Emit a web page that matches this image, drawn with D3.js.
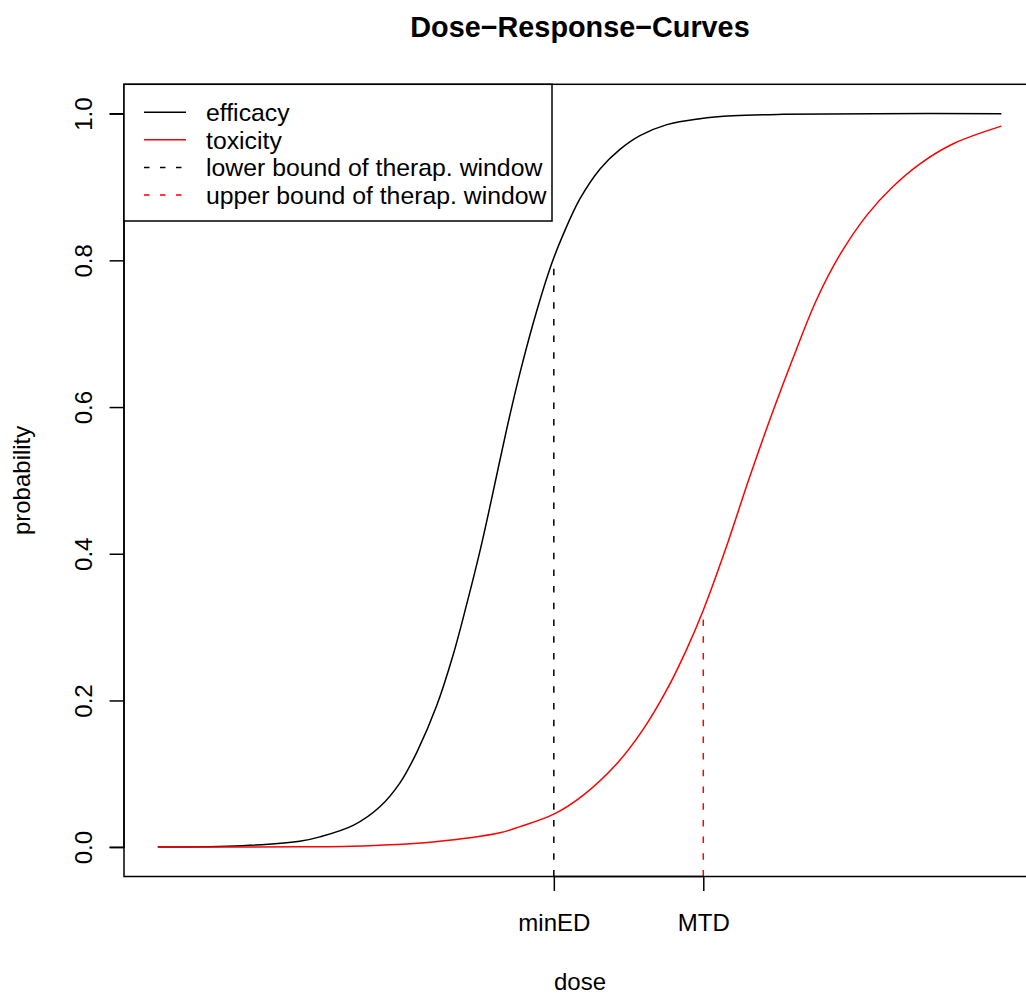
<!DOCTYPE html>
<html>
<head>
<meta charset="utf-8">
<script src="https://cdn.jsdelivr.net/npm/d3@7"></script>
<style>
  html, body { margin: 0; padding: 0; background: #fff; }
  svg { display: block; font-family: "Liberation Sans", Arial, Helvetica, sans-serif; }
</style>
</head>
<body>
<svg id="chart" width="1026" height="996"></svg>
<script>
// Efficacy curve: dose vs. probability of response
const effDose = [0, 1.0, 1.68, 1.92, 2.32, 2.63, 2.87, 3.07, 3.30, 3.50, 3.66, 3.82, 3.95,
                 4.13, 4.29, 4.49, 4.66, 4.80, 5.00, 5.24, 5.47, 5.71, 6.03, 6.42, 6.81, 7.40, 8.5, 9.99];
const effProb = [0.0002, 0.002, 0.008, 0.014, 0.030, 0.055, 0.088, 0.130, 0.192, 0.263, 0.332, 0.406, 0.473,
                 0.569, 0.647, 0.732, 0.794, 0.835, 0.884, 0.925, 0.951, 0.970, 0.985, 0.993, 0.997, 0.999, 1.0, 1.0];

// Toxicity curve: dose vs. probability of toxicity
const toxDose = [0, 1.68, 2.5, 3.26, 4.05, 4.29, 4.69, 5.04, 5.43, 5.75, 6.03, 6.26, 6.46, 6.72,
                 7.01, 7.29, 7.53, 7.80, 8.08, 8.40, 8.71, 9.03, 9.42, 9.99];
const toxProb = [0.0001, 0.0004, 0.002, 0.007, 0.0195, 0.028, 0.045, 0.071, 0.113, 0.161, 0.215, 0.269, 0.323, 0.405,
                 0.505, 0.596, 0.669, 0.746, 0.808, 0.862, 0.901, 0.932, 0.959, 0.983];

// Therapeutic window bounds
const boundDose = [4.69, 6.46];
const boundProb = [0.792, 0.3165];
const boundLabels = ["minED", "MTD"];
const boundColors = ["#000000", "#ff0000"];

// Axis ticks
const yTicks = [0, 0.2, 0.4, 0.6, 0.8, 1.0];
const yTickLabels = ["0.0", "0.2", "0.4", "0.6", "0.8", "1.0"];

// Legend
const legendLabels = ["efficacy", "toxicity", "lower bound of therap. window", "upper bound of therap. window"];
const legendColors = ["#000000", "#ff0000", "#000000", "#ff0000"];
const legendDashed = [false, false, true, true];

const svg = d3.select("#chart");
const plot = { left: 124, right: 1036, top: 84.3, bottom: 876.5 };

const x = d3.scaleLinear().domain([-0.4, 10.4]).range([plot.left, plot.right]);
const y = d3.scaleLinear().domain([-0.04, 1.04]).range([plot.bottom, plot.top]);

const dash = "6.5,10.2";
const fontSize = 24;

// Curves
const line = d3.line().x(d => x(d[0])).y(d => y(d[1])).curve(d3.curveCatmullRom.alpha(0.5));
svg.append("path")
  .attr("d", line(d3.zip(effDose, effProb)))
  .attr("fill", "none").attr("stroke", "#000").attr("stroke-width", 1.5);
svg.append("path")
  .attr("d", line(d3.zip(toxDose, toxProb)))
  .attr("fill", "none").attr("stroke", "#ff0000").attr("stroke-width", 1.5);

// Vertical dashed lines marking the therapeutic window
boundDose.forEach((d, i) => {
  svg.append("line")
    .attr("x1", x(d)).attr("x2", x(d))
    .attr("y1", plot.bottom).attr("y2", y(boundProb[i]))
    .attr("stroke", boundColors[i]).attr("stroke-width", 1.5)
    .attr("stroke-dasharray", dash);
});

// Plot frame
svg.append("rect")
  .attr("x", plot.left).attr("y", plot.top)
  .attr("width", plot.right - plot.left).attr("height", plot.bottom - plot.top)
  .attr("fill", "none").attr("stroke", "#000").attr("stroke-width", 1.5);

// Y axis
const yAxis = d3.axisLeft(y).tickValues(yTicks).tickSize(14.4)
  .tickFormat((d, i) => yTickLabels[i]);
const gy = svg.append("g").attr("transform", `translate(${plot.left},0)`).call(yAxis);
gy.select(".domain").attr("d", `M-14.4,${y(0)}H0V${y(1)}H-14.4`).attr("stroke-width", 1.5);
gy.selectAll(".tick line").attr("stroke-width", 1.5);
gy.selectAll(".tick text")
  .attr("font-size", fontSize).attr("font-family", null).attr("fill", "#000")
  .attr("x", null).attr("dy", null)
  .attr("text-anchor", "middle")
  .attr("transform", "translate(-32.5,0) rotate(-90)");

// X axis with only the window bounds marked
const xAxis = d3.axisBottom(x).tickValues(boundDose).tickSize(14.4)
  .tickFormat((d, i) => boundLabels[i]);
const gx = svg.append("g").attr("transform", `translate(0,${plot.bottom})`).call(xAxis);
gx.select(".domain").attr("d", `M${x(boundDose[0])},0H${x(boundDose[1])}`).attr("stroke-width", 1.5);
gx.selectAll(".tick line").attr("stroke-width", 1.5);
gx.selectAll(".tick text")
  .attr("font-size", fontSize).attr("font-family", null).attr("fill", "#000")
  .attr("y", 54).attr("dy", null);

// Title and axis titles
const cx = (plot.left + plot.right) / 2;
svg.append("text").attr("x", cx).attr("y", 37)
  .attr("text-anchor", "middle").attr("font-weight", "bold").attr("font-size", 28.8)
  .text("Dose\u2212Response\u2212Curves");
svg.append("text").attr("x", cx).attr("y", 990)
  .attr("text-anchor", "middle").attr("font-size", fontSize).text("dose");
svg.append("text")
  .attr("transform", `translate(30,${(plot.top + plot.bottom) / 2}) rotate(-90)`)
  .attr("text-anchor", "middle").attr("font-size", fontSize).text("probability");

// Legend
const legend = svg.append("g");
legend.append("rect")
  .attr("x", plot.left).attr("y", plot.top)
  .attr("width", 552 - plot.left).attr("height", 221 - plot.top)
  .attr("fill", "#fff").attr("stroke", "#000").attr("stroke-width", 1.5);
const rowY = d3.scaleLinear().domain([0, 3]).range([112.3, 195]);
legendLabels.forEach((lab, i) => {
  legend.append("line")
    .attr("x1", 144).attr("x2", 186)
    .attr("y1", rowY(i)).attr("y2", rowY(i))
    .attr("stroke", legendColors[i]).attr("stroke-width", 1.5)
    .attr("stroke-dasharray", legendDashed[i] ? "5.5,10.5" : null);
  legend.append("text")
    .attr("x", 206).attr("y", rowY(i) + 8.7)
    .attr("font-size", 24.8).text(lab);
});
</script>
</body>
</html>
